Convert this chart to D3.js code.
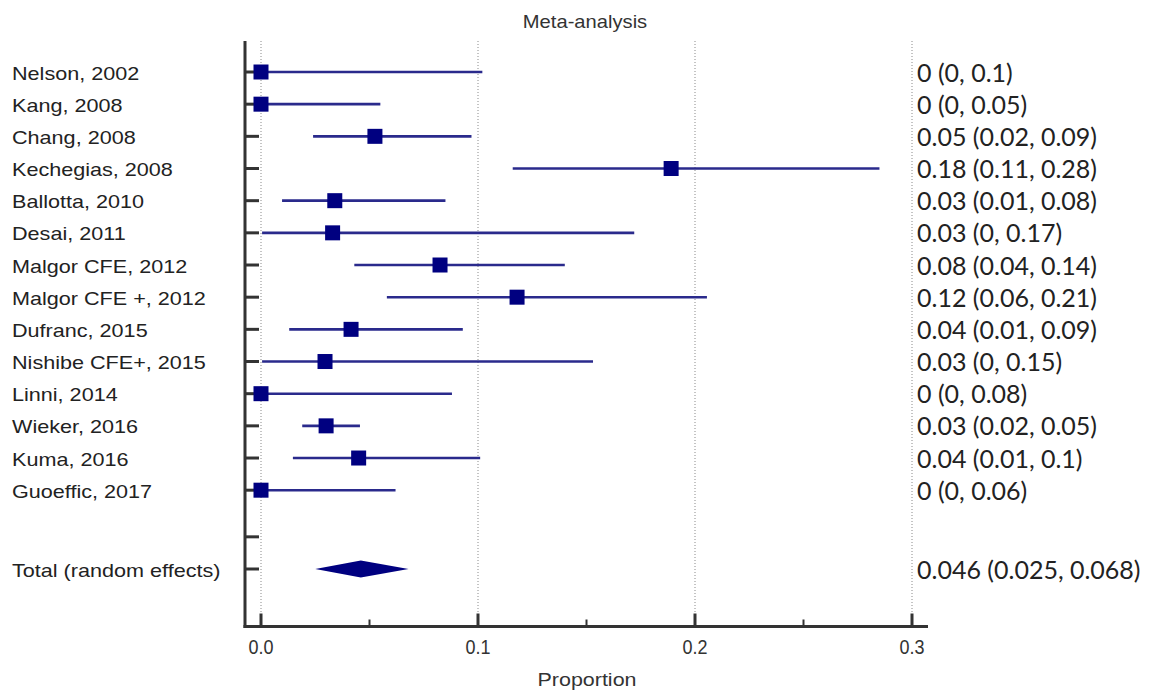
<!DOCTYPE html>
<html><head><meta charset="utf-8">
<script src="https://cdn.jsdelivr.net/npm/d3@7/dist/d3.min.js"></script>
<style>body{margin:0;background:#fff}svg{display:block}</style>
</head><body>
<script>
const studies = ["Nelson, 2002","Kang, 2008","Chang, 2008","Kechegias, 2008","Ballotta, 2010","Desai, 2011","Malgor CFE, 2012","Malgor CFE +, 2012","Dufranc, 2015","Nishibe CFE+, 2015","Linni, 2014","Wieker, 2016","Kuma, 2016","Guoeffic, 2017"];
const estimates = [0, 0, 0.0525, 0.189, 0.034, 0.033, 0.0825, 0.118, 0.0415, 0.0295, 0, 0.030, 0.045, 0];
const lowers    = [0, 0, 0.024, 0.116, 0.0097, 0.0005, 0.043, 0.058, 0.013, 0.0005, 0, 0.019, 0.0147, 0];
const uppers    = [0.102, 0.055, 0.097, 0.285, 0.085, 0.172, 0.140, 0.2055, 0.093, 0.153, 0.088, 0.0456, 0.101, 0.062];
const resultTexts = ["0 (0, 0.1)","0 (0, 0.05)","0.05 (0.02, 0.09)","0.18 (0.11, 0.28)","0.03 (0.01, 0.08)","0.03 (0, 0.17)","0.08 (0.04, 0.14)","0.12 (0.06, 0.21)","0.04 (0.01, 0.09)","0.03 (0, 0.15)","0 (0, 0.08)","0.03 (0.02, 0.05)","0.04 (0.01, 0.1)","0 (0, 0.06)"];
const totalLabel = "Total (random effects)";
const totalEstimate = 0.046, totalLower = 0.025, totalUpper = 0.068;
const totalText = "0.046 (0.025, 0.068)";
const xTicks = [0, 0.1, 0.2, 0.3];
const xMinorTicks = [0.05, 0.15, 0.25];
const xTickLabels = ["0.0","0.1","0.2","0.3"];
const title = "Meta-analysis";
const xTitle = "Proportion";

const W = 1153, H = 696;
const svg = d3.select("body").append("svg").attr("width", W).attr("height", H);

const x = d3.scaleLinear().domain([0, 0.3]).range([261, 912]);
// row index: studies 0..13, blank row, then total
const blankIdx = 14.45, totalIdx = 15.45;
const y = d3.scaleLinear().domain([0, totalIdx]).range([72, 569]);
const axisLeftX = 245, axisTop = 41, axisBottomY = 626.5, axisRight = 928;

const navy = "#000080", lineCol = "#2a2a8c", axisCol = "#333";
const sans = "'Liberation Sans',Arial,sans-serif";

// grid lines
svg.append("g").selectAll("line").data(xTicks).join("line")
  .attr("x1", d => x(d)).attr("x2", d => x(d))
  .attr("y1", axisTop).attr("y2", axisBottomY)
  .attr("stroke", "#8a8a8a").attr("stroke-width", 1).attr("stroke-dasharray", "1,2");

// axes lines
svg.append("line").attr("x1", axisLeftX).attr("x2", axisLeftX).attr("y1", axisTop).attr("y2", axisBottomY + 1.5)
  .attr("stroke", axisCol).attr("stroke-width", 3);
svg.append("line").attr("x1", axisLeftX - 1.5).attr("x2", axisRight).attr("y1", axisBottomY).attr("y2", axisBottomY)
  .attr("stroke", axisCol).attr("stroke-width", 3);

// y ticks
const rowIdx = studies.map((d, i) => i).concat([blankIdx, totalIdx]);
svg.append("g").selectAll("line").data(rowIdx).join("line")
  .attr("x1", axisLeftX).attr("x2", 259)
  .attr("y1", d => y(d)).attr("y2", d => y(d))
  .attr("stroke", axisCol).attr("stroke-width", 3);

// x ticks
svg.append("g").selectAll("line").data(xTicks).join("line")
  .attr("x1", d => x(d)).attr("x2", d => x(d))
  .attr("y1", axisBottomY).attr("y2", axisBottomY - 13)
  .attr("stroke", axisCol).attr("stroke-width", 3);
svg.append("g").selectAll("line").data(xMinorTicks).join("line")
  .attr("x1", d => x(d)).attr("x2", d => x(d))
  .attr("y1", axisBottomY).attr("y2", axisBottomY - 7)
  .attr("stroke", axisCol).attr("stroke-width", 2);

svg.append("g").selectAll("text").data(xTicks).join("text")
  .attr("transform", d => `translate(${x(d)},654) scale(1,1.12)`)
  .attr("text-anchor", "middle")
  .attr("font-family", "'Liberation Sans Narrow','Liberation Sans',Arial,sans-serif")
  .attr("font-size", 18).attr("fill", "#333")
  .text((d, i) => xTickLabels[i]);

svg.append("text").attr("transform", "translate(587,686) scale(1.13,1)").attr("text-anchor", "middle")
  .attr("font-family", sans).attr("font-size", 19).attr("fill", "#333")
  .text(xTitle);

svg.append("text").attr("transform", "translate(585,28) scale(1.12,1)").attr("text-anchor", "middle")
  .attr("font-family", sans).attr("font-size", 18).attr("fill", "#333")
  .text(title);

// CI lines
svg.append("g").selectAll("line").data(studies).join("line")
  .attr("x1", (d, i) => x(lowers[i])).attr("x2", (d, i) => x(uppers[i]))
  .attr("y1", (d, i) => y(i)).attr("y2", (d, i) => y(i))
  .attr("stroke", lineCol).attr("stroke-width", 2.6);

// squares
const sq = 15;
svg.append("g").selectAll("rect").data(studies).join("rect")
  .attr("x", (d, i) => x(estimates[i]) - sq / 2).attr("y", (d, i) => y(i) - sq / 2)
  .attr("width", sq).attr("height", sq).attr("fill", navy);

// diamond
const ty = y(totalIdx);
svg.append("path")
  .attr("d", `M${x(totalLower)},${ty}L${x(totalEstimate)},${ty - 8.5}L${x(totalUpper)},${ty}L${x(totalEstimate)},${ty + 8.5}Z`)
  .attr("fill", navy);

// left labels
svg.append("g").selectAll("text").data(studies.concat([totalLabel])).join("text")
  .attr("transform", (d, i) => `translate(12,${y(i < studies.length ? i : totalIdx)}) scale(1.2,1)`)
  .attr("dy", "0.42em")
  .attr("font-family", sans).attr("font-size", 18).attr("fill", "#222")
  .text(d => d);

// right texts
svg.append("g").selectAll("text").data(resultTexts.concat([totalText])).join("text")
  .attr("x", 917).attr("y", (d, i) => y(i < studies.length ? i : totalIdx))
  .attr("dy", "0.38em")
  .attr("font-family", "Lato,'Open Sans',sans-serif").attr("font-size", 25).attr("fill", "#222")
  .text(d => d);
</script>
</body></html>
